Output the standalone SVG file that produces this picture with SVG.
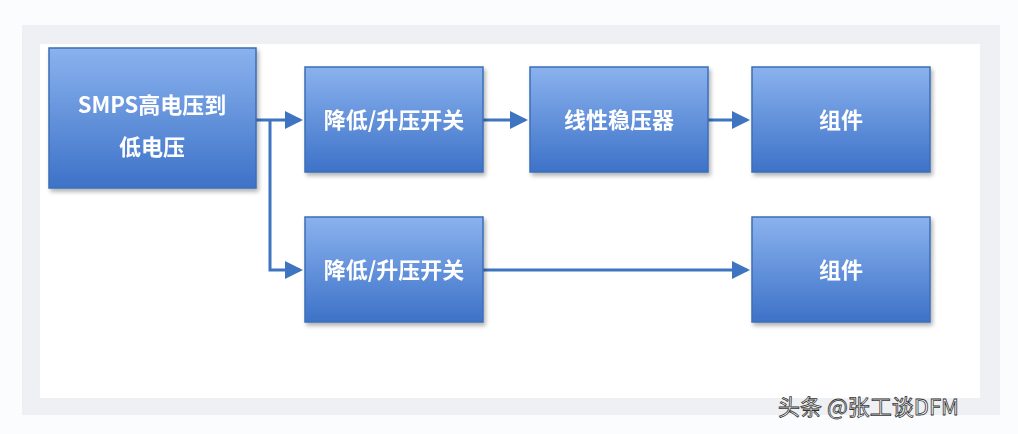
<svg xmlns="http://www.w3.org/2000/svg" width="1018" height="434" viewBox="0 0 1018 434">
<style>
.box{fill:url(#g);stroke:#3b6fb8;stroke-width:1.5}
.t{font-family:"Noto Sans CJK SC","Liberation Sans",sans-serif;font-weight:bold;font-size:22px;fill:#fff;text-anchor:middle}
.c{fill:none;stroke:#3f74c0;stroke-width:3}
</style>
<defs>
<linearGradient id="g" x1="0" y1="0" x2="0" y2="1"><stop offset="0" stop-color="#8ab2ee"/><stop offset="1" stop-color="#3d72c8"/></linearGradient>
<marker id="a" markerWidth="6" markerHeight="6" refX="5" refY="3" orient="auto" markerUnits="strokeWidth"><path d="M0,0L6,3L0,6Z" fill="#3f74c0"/></marker>
<filter id="s"><feDropShadow dx="2" dy="3" stdDeviation="2" flood-opacity="0.3"/></filter>
</defs>
<rect width="1018" height="434" fill="#fbfcfe"/>
<rect x="22" y="25" width="978" height="390" fill="#eef0f3"/>
<rect x="40" y="44" width="940" height="354" fill="#fff"/>
<g id="connectors">
<path class="c" d="M256,120H300" marker-end="url(#a)"/>
<path class="c" d="M270,120V270H300" marker-end="url(#a)"/>
<path class="c" d="M483,120H525" marker-end="url(#a)"/>
<path class="c" d="M708,120H747" marker-end="url(#a)"/>
<path class="c" d="M483,270H747" marker-end="url(#a)"/>
</g>
<g id="n1" filter="url(#s)"><rect class="box" x="49" y="48" width="207" height="140"/><text class="t" x="152" y="113">SMPS高电压到</text><text class="t" x="152" y="155">低电压</text></g>
<g id="n2" filter="url(#s)"><rect class="box" x="305" y="67" width="178" height="105"/><text class="t" x="394" y="128">降低/升压开关</text></g>
<g id="n3" filter="url(#s)"><rect class="box" x="530" y="67" width="178" height="105"/><text class="t" x="619" y="128">线性稳压器</text></g>
<g id="n4" filter="url(#s)"><rect class="box" x="752" y="67" width="178" height="105"/><text class="t" x="841" y="128">组件</text></g>
<g id="n5" filter="url(#s)"><rect class="box" x="305" y="217" width="178" height="105"/><text class="t" x="394" y="278">降低/升压开关</text></g>
<g id="n6" filter="url(#s)"><rect class="box" x="752" y="217" width="178" height="105"/><text class="t" x="841" y="278">组件</text></g>
<text x="778" y="415" font-family="Noto Sans CJK SC,Liberation Sans,sans-serif" font-size="22" fill="#fff" stroke="#333" stroke-width="0.8">头条 @张工谈DFM</text>
</svg>
